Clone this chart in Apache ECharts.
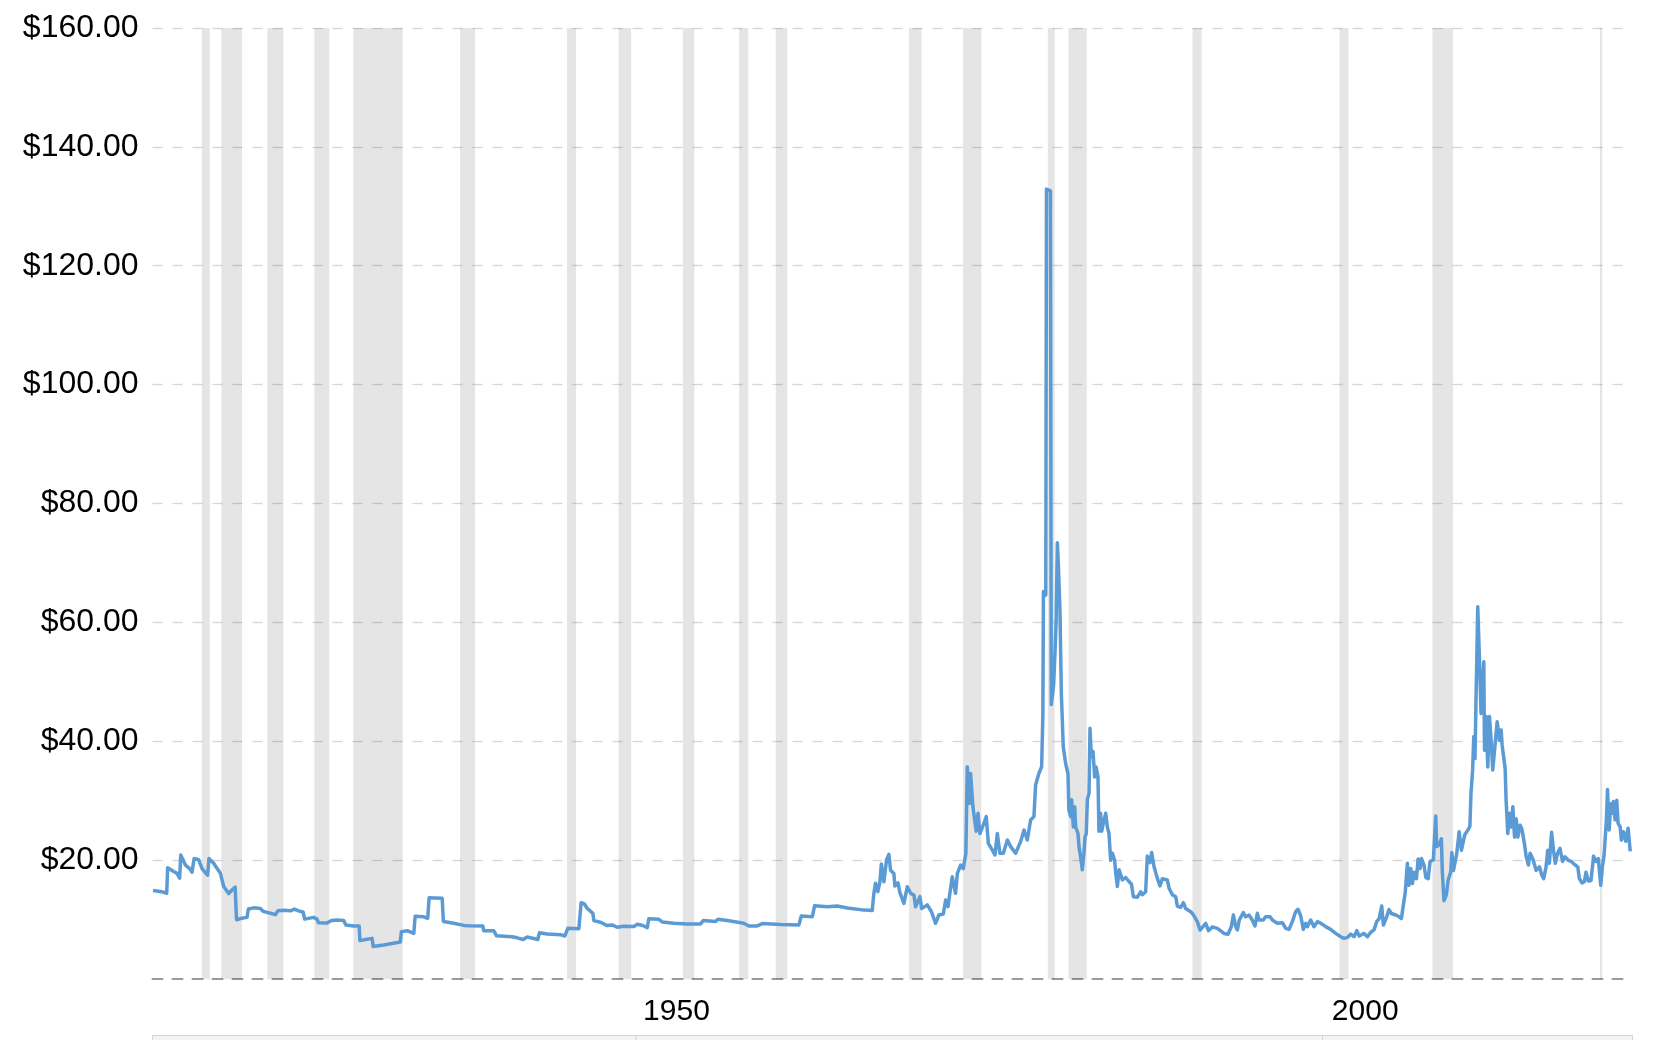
<!DOCTYPE html>
<html>
<head>
<meta charset="utf-8">
<script src="https://cdn.jsdelivr.net/npm/echarts@6/dist/echarts.min.js"></script>
<style>
html,body{margin:0;padding:0;background:#fff;}
#chart{width:1662px;height:1040px;}
</style>
</head>
<body>
<div id="chart"></div>
<script>
// ---- data ----
const years = [
1915.04,1915.7,1916.03,1916.1,1916.54,1916.78,1916.97,1917.05,1917.39,1917.7,1917.87,1918.02,1918.35,1918.6,1918.84,1919.0,1919.1,1919.44,1919.69,1919.93,
1920.17,1920.53,1920.77,1921.0,1921.1,1921.38,1921.86,1921.96,1922.35,1922.83,1923.03,1923.56,1923.92,1924.1,1924.52,1925.01,1925.3,1925.6,1925.93,1926.05,
1926.7,1926.94,1927.05,1927.68,1928.0,1928.4,1928.88,1929.05,1929.61,1930.0,1930.06,1930.94,1931.02,1931.79,1932.99,1933.07,1933.49,1933.97,1934.07,1934.69,
1934.98,1935.08,1936.03,1936.12,1936.87,1937.6,1937.95,
1938.08,1938.98,1939.05,1939.78,1939.97,1941.11,1941.47,1941.91,1942.2,1942.68,1942.97,1943.09,1943.65,1944.62,1944.93,1945.15,1945.95,1946.12,1946.36,1946.56,
1946.97,1947.04,1947.52,1948.01,1948.37,1948.73,1949.2,1949.94,1950.19,1950.55,1950.92,1951.03,1951.76,1952.0,1952.85,1953.82,1954.79,1954.98,1955.88,1956.05,
1956.73,1957.93,1958.3,1958.9,1959.27,1960.6,1961.93,1962.1,1962.9,1963.07,1963.99,1964.71,1965.44,1966.41,
1967.25,1967.37,1967.49,1967.66,1967.81,1967.91,1968.1,1968.29,1968.46,1968.58,1968.82,1968.9,1969.12,1969.26,1969.55,1969.8,1970.04,1970.28,1970.4,1970.71,
1970.84,1971.25,1971.54,1971.85,1972.09,1972.41,1972.58,1972.75,1973.06,1973.3,1973.43,1973.67,1973.86,1974.05,1974.15,1974.3,1974.39,1974.56,1974.68,1974.8,
1974.93,1975.07,1975.36,1975.53,1975.68,1975.97,1976.16,1976.33,1976.52,1976.77,1977.06,1977.3,1977.66,1978.03,1978.27,1978.51,1978.75,1978.99,1979.11,1979.35,
1979.55,1979.64,1979.68,1979.85,1979.9,1980.19,1980.25,1980.42,1980.52,1980.6,1980.69,1980.76,1980.88,1980.98,1981.12,1981.29,1981.46,1981.53,1981.66,1981.73,
1981.85,1981.95,1982.02,1982.19,1982.26,1982.38,1982.5,1982.62,1982.7,1982.79,1982.87,1982.99,1983.06,1983.16,1983.28,1983.4,1983.5,1983.64,1983.71,1983.83,
1983.91,1984.08,1984.2,1984.32,1984.44,1984.56,1984.68,1984.85,1984.93,1985.05,1985.17,1985.41,1985.65,1985.9,1986.07,1986.21,1986.5,1986.74,1986.86,1987.1,
1987.22,1987.41,1987.54,1987.71,1987.95,1988.14,1988.31,1988.67,1988.8,1989.04,1989.28,1989.4,1989.64,1989.84,1990.0,1990.37,1990.57,1990.86,1991.05,1991.46,
1991.66,1991.95,1992.31,1992.79,1993.08,1993.32,1993.47,1993.64,1993.76,1993.9,1994.19,1994.36,1994.6,1994.84,1995.04,1995.21,1995.33,1995.64,1995.81,1996.13,
1996.3,1996.66,1997.03,1997.27,1997.51,1997.75,1997.99,1998.16,1998.36,1998.55,1998.72,1998.84,1999.08,1999.32,1999.57,1999.81,2000.17,2000.53,2000.9,2001.26,
2001.5,2001.75,2001.99,2002.23,2002.43,2002.6,2002.96,2003.2,2003.44,2003.68,2003.88,2004.05,2004.24,2004.36,2004.6,2004.77,2004.94,2005.26,2005.5,2005.67,
2005.79,2005.94,2006.1,2006.22,2006.35,2006.47,2006.59,2006.76,2006.88,2007.03,2007.12,2007.32,2007.44,2007.61,2007.75,2007.99,2008.16,2008.23,2008.4,2008.57,
2008.64,2008.76,2008.93,2009.06,2009.25,2009.33,2009.45,2009.69,2009.86,2010.03,2010.27,2010.47,2010.64,2010.72,2010.84,2010.92,2011.01,2011.08,2011.21,2011.33,
2011.45,2011.57,2011.65,2011.7,2011.82,2011.94,2012.06,2012.18,2012.3,2012.42,2012.62,2012.79,2012.91,2012.98,2013.1,2013.2,2013.27,2013.39,2013.51,2013.63,
2013.76,2013.88,2014.0,2014.12,2014.29,2014.41,2014.53,2014.6,2014.73,2014.89,2015.01,2015.21,2015.33,2015.45,2015.69,2015.86,2016.0,2016.17,2016.29,2016.41,
2016.57,2016.72,2016.84,2017.01,2017.18,2017.37,2017.54,2017.78,2018.0,2018.1,2018.28,2018.47,2018.59,2018.78,2018.95,2019.07,2019.24,2019.43,2019.62,2019.79,
2019.96,2020.14,2020.26,2020.38,2020.45,2020.55,2020.63,2020.75,2020.87,2020.99,2021.06,2021.18,2021.3,2021.4,2021.55,2021.64,2021.79,2021.96,2022.13,2022.28
];
const prices = [
14.9,14.7,14.45,18.75,18.1,17.8,17.0,20.9,19.2,18.6,18.0,20.3,20.1,18.6,17.9,17.5,20.3,19.5,18.6,17.8,
15.6,14.4,15.0,15.5,10.0,10.2,10.4,11.8,12.0,11.9,11.4,11.1,10.85,11.5,11.6,11.5,11.8,11.5,11.3,10.1,
10.4,10.1,9.5,9.47,9.86,9.97,9.86,9.1,8.96,8.96,6.5,6.87,5.5,5.75,6.25,8.0,8.15,7.7,10.6,10.5,
10.25,13.7,13.6,9.7,9.4,9.05,9.0,
8.96,8.96,8.13,8.13,7.32,7.15,6.96,6.68,7.1,6.84,6.68,7.82,7.6,7.49,7.26,8.56,8.5,12.87,12.64,11.9,
11.08,9.86,9.58,9.02,9.13,8.74,8.91,8.85,9.24,9.07,8.68,10.18,10.07,9.63,9.41,9.3,9.3,9.86,9.69,10.07,
9.86,9.41,8.96,8.96,9.35,9.18,9.13,10.63,10.51,12.36,12.2,12.3,11.99,11.7,
11.56,14.44,16.13,14.73,16.4,19.37,16.4,20.1,21.0,18.34,17.79,15.67,16.2,14.55,12.76,15.56,14.44,14.17,12.2,13.88,
11.9,12.5,11.39,9.4,10.8,10.97,13.32,12.2,17.23,14.44,17.8,19.2,18.6,21.17,35.74,29.57,34.6,29.0,29.3,24.9,
27.9,24.5,26.2,27.35,22.84,21.7,20.9,24.5,21.17,21.17,23.4,22.3,21.17,23.18,25.1,23.4,26.77,27.35,32.66,34.6,
35.74,44.5,65.2,64.6,132.9,132.6,46.2,49.5,55.0,60.0,73.4,70.0,62.1,48.1,39.1,36.3,34.6,28.4,27.35,30.2,
25.6,29.0,25.6,24.5,22.3,20.6,18.4,21.2,23.9,24.5,30.2,31.3,42.2,37.4,38.3,34.0,35.7,34.0,24.9,27.9,
24.9,26.8,27.9,25.6,24.5,20.0,21.2,20.0,17.8,15.6,18.4,16.7,17.1,16.4,16.0,13.88,13.8,14.7,14.2,14.7,
20.7,19.6,21.3,18.9,16.96,15.7,16.9,16.7,15.3,14.2,13.88,12.3,12.08,12.87,11.9,11.35,10.8,9.63,8.27,9.4,
8.16,8.8,8.55,7.7,7.55,8.84,10.8,8.84,8.27,9.96,11.2,10.5,10.8,9.96,8.95,11.1,9.96,9.96,10.5,10.5,
9.96,9.4,9.5,8.55,8.38,9.68,11.35,11.76,10.63,8.38,9.4,8.84,9.96,8.84,9.68,9.4,8.84,8.38,7.7,7.14,
6.87,7.03,7.59,7.14,8.16,7.26,7.7,7.14,7.9,8.3,9.7,10.2,12.3,9.1,10.5,11.7,11.05,10.8,10.5,10.2,
12.2,14.44,19.5,15.8,18.6,16.1,18.0,16.9,20.2,18.6,20.3,19.1,17.1,16.9,19.8,20.1,27.45,22.3,22.6,23.6,
18.0,13.2,14.2,16.7,18.0,21.3,18.3,21.2,24.8,21.7,24.3,25.0,25.7,31.3,35.2,40.8,37.1,46.4,62.65,54.2,
44.7,49.8,53.4,38.5,44.2,35.7,44.2,40.2,35.2,35.2,43.3,40.2,41.9,39.4,39.4,35.4,30.1,24.5,27.9,25.6,
29.0,23.9,27.0,23.9,25.9,25.3,25.6,22.8,20.6,19.2,21.2,20.2,20.0,18.3,18.9,17.5,16.9,18.9,21.7,19.5,
24.7,21.5,19.5,21.2,22.0,19.8,20.6,20.0,19.8,20.1,19.2,18.9,16.9,16.2,16.4,18.0,16.5,16.6,20.7,19.8,
20.3,15.8,18.9,20.8,20.8,26.8,31.9,25.1,29.5,27.9,29.9,26.8,30.1,26.2,25.6,23.4,24.8,23.2,25.4,21.5
];
// US recessions (shaded bands), start / end as decimal years
const recessionStarts = [1918.583,1920.0,1923.333,1926.75,1929.583,1937.333,1945.083,1948.833,1953.5,1957.583,1960.25,1969.917,1973.833,1980.0,1981.5,1990.5,2001.167,2007.917,2020.083];
const recessionEnds   = [1919.167,1921.5,1924.5,1927.833,1933.167,1938.417,1945.75,1949.75,1954.333,1958.25,1961.083,1970.833,1975.167,1980.5,1982.833,1991.167,2001.833,2009.417,2020.25];
// axis settings
const xStart = 1915.0, xEnd = 2022.3;
const xLabelYears = [1950, 2000];
const yMin = 0, yMax = 160, yStep = 20;

// ---- chart ----
const chart = echarts.init(document.getElementById('chart'), null, {renderer: 'canvas'});
const seriesData = years.map((y, i) => [y, prices[i]]);
const bands = recessionStarts.map((s, i) => [{xAxis: s}, {xAxis: recessionEnds[i]}]);
const LABEL_SHIFT = 3.04; // label cells are centred a bit after the year mark
const FONT = 'Liberation Sans';
const gridColors = ['rgba(0,0,0,0)'];
for (let v = yMin + yStep; v <= yMax; v += yStep) gridColors.push('#d6d6d6');

chart.setOption({
  animation: false,
  backgroundColor: '#fff',
  grid: {left: 152.5, right: 31.5, top: 27.9, bottom: 60.8, containLabel: false},
  xAxis: [
    {
      type: 'value', min: xStart, max: xEnd, position: 'bottom',
      axisLine: {show: true, lineStyle: {color: '#9a9a9a', width: 2, type: [10, 10]}},
      axisTick: {show: false}, axisLabel: {show: false}, splitLine: {show: false}
    },
    {
      type: 'value', min: xStart - LABEL_SHIFT, max: xEnd - LABEL_SHIFT, position: 'bottom',
      axisLine: {show: false}, axisTick: {show: false}, splitLine: {show: false},
      axisLabel: {
        show: true, customValues: xLabelYears, margin: 18,
        color: '#000', fontFamily: FONT, fontSize: 30,
        formatter: v => String(Math.round(v))
      }
    }
  ],
  yAxis: {
    type: 'value', min: yMin, max: yMax, interval: yStep,
    axisLine: {show: false}, axisTick: {show: false},
    axisLabel: {
      showMinLabel: false, margin: 14, color: '#000', fontFamily: FONT, fontSize: 32,
      formatter: v => '$' + v.toFixed(2)
    },
    splitLine: {show: true, lineStyle: {color: gridColors, width: 1.3, type: [10, 10]}}
  },
  series: [
    {
      type: 'line', data: [], z: 1, silent: true,
      markArea: {silent: true, itemStyle: {color: 'rgba(0,0,0,0.1)'}, data: bands}
    },
    {
      type: 'line', data: seriesData, z: 3, showSymbol: false, symbol: 'none',
      lineStyle: {color: '#5b9bd5', width: 3.5, join: 'round'},
      itemStyle: {color: '#5b9bd5'}
    }
  ],
  graphic: [
    {type: 'rect', shape: {x: 152.5, y: 1035.5, width: 1480, height: 12}, style: {fill: '#f4f4f4', stroke: '#d4d4d4', lineWidth: 1}},
    {type: 'line', shape: {x1: 636, y1: 1036, x2: 636, y2: 1040}, style: {stroke: '#d4d4d4', lineWidth: 1}},
    {type: 'line', shape: {x1: 1322.5, y1: 1036, x2: 1322.5, y2: 1040}, style: {stroke: '#d4d4d4', lineWidth: 1}}
  ]
});
</script>
</body>
</html>
